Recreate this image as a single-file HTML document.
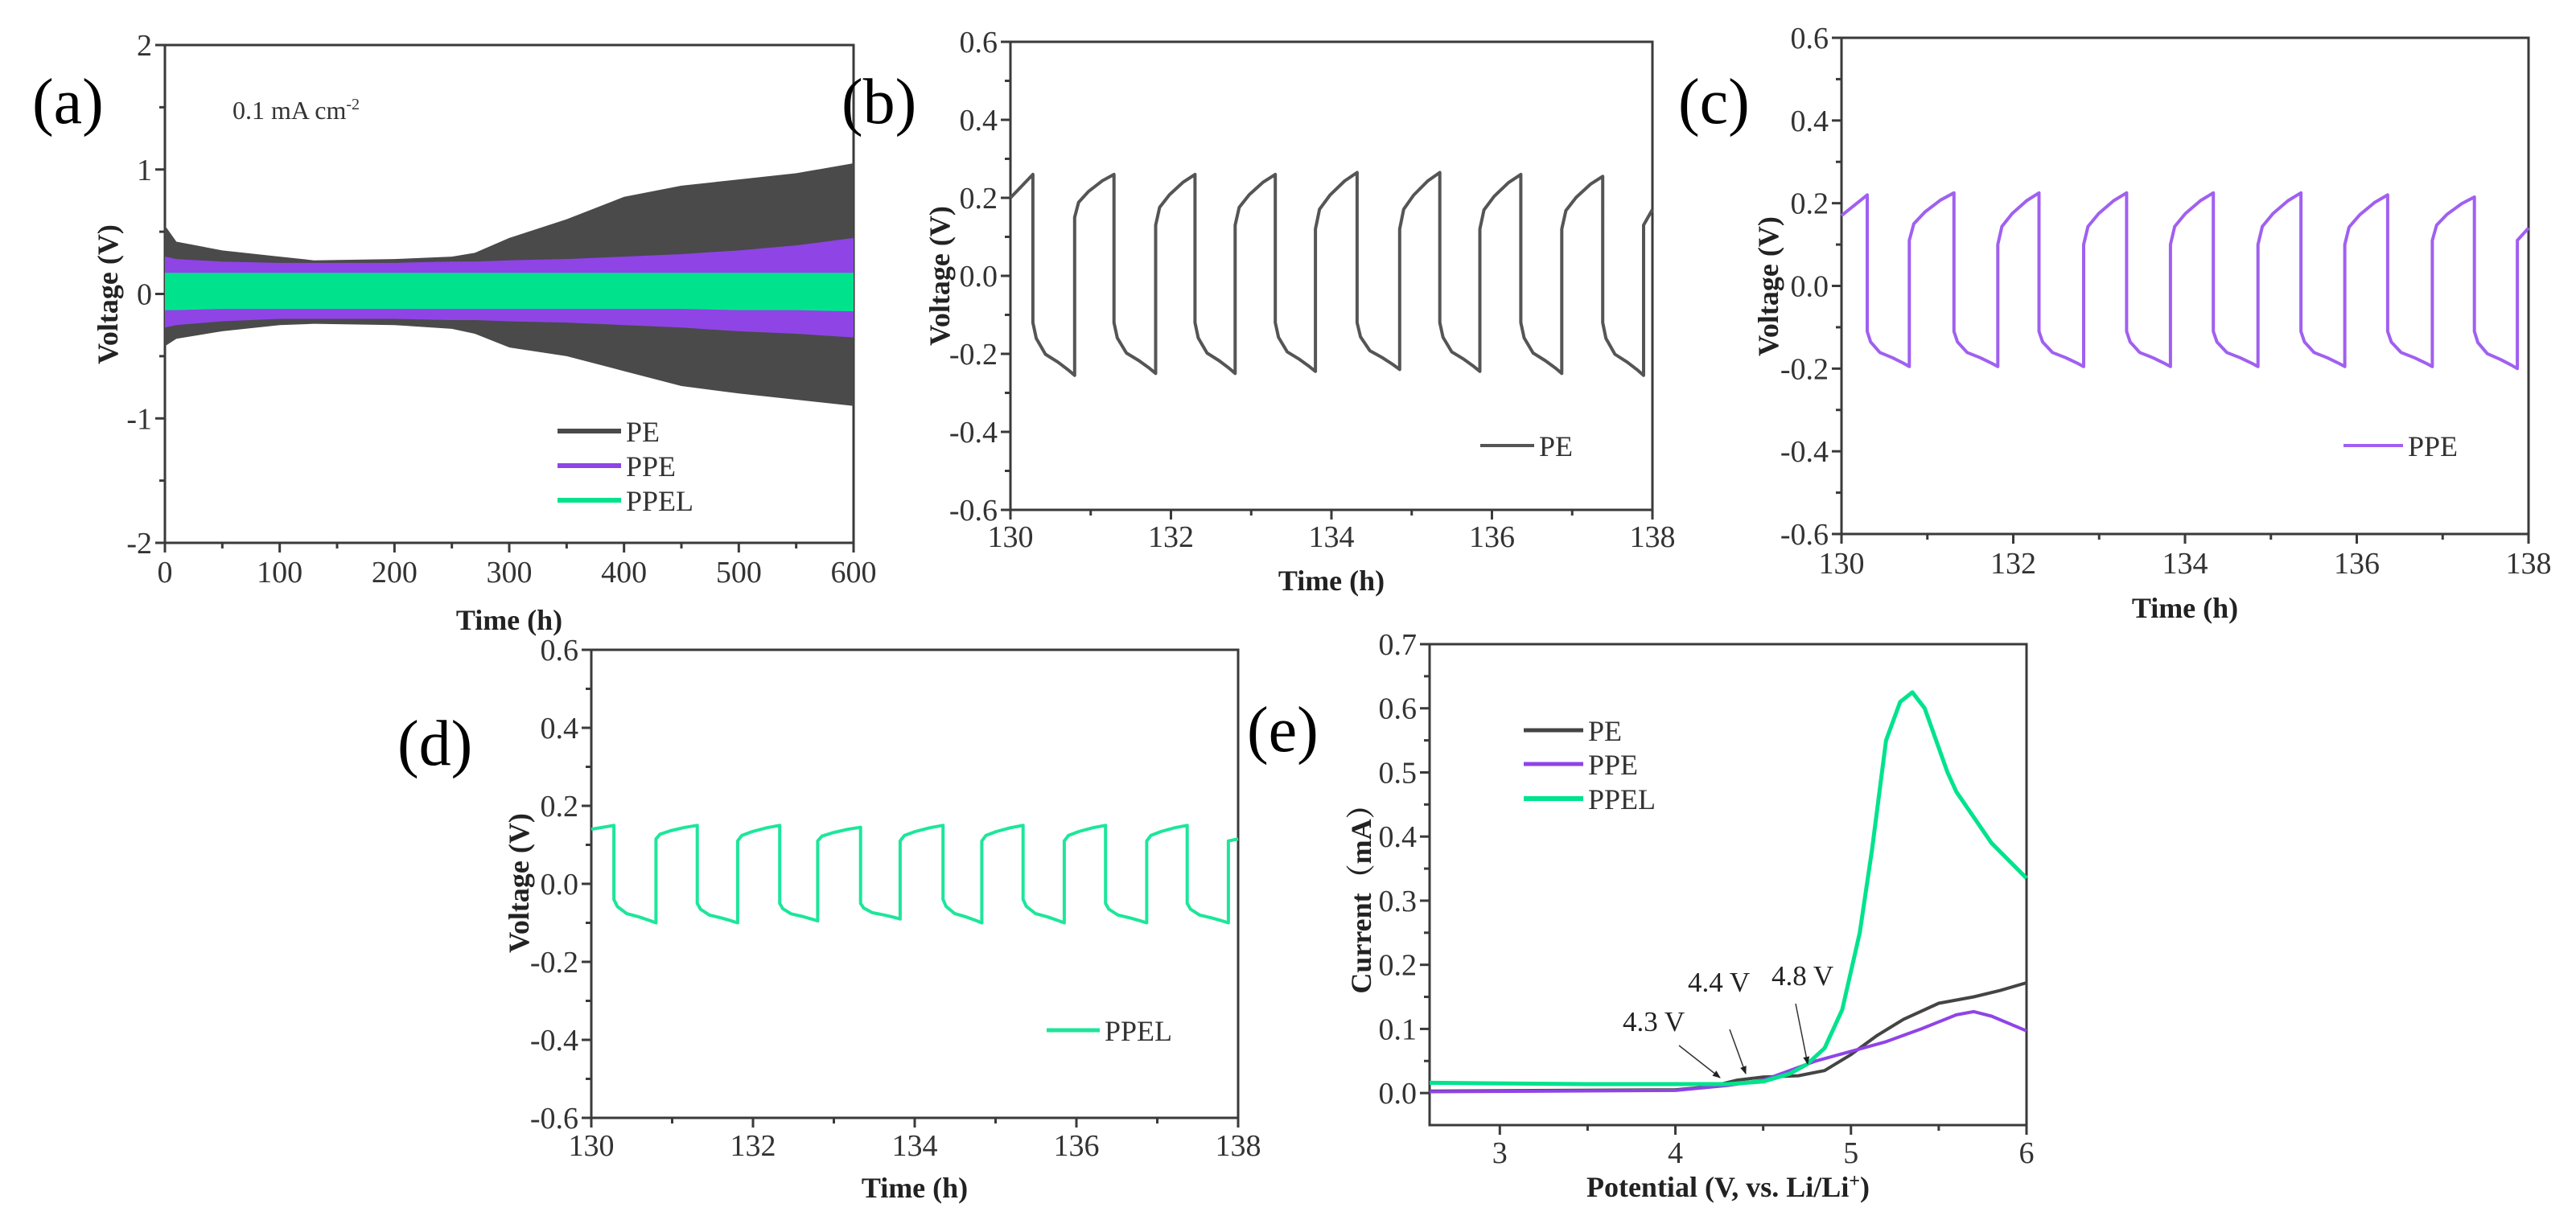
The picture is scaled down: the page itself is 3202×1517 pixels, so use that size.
<!DOCTYPE html>
<html><head><meta charset="utf-8">
<style>
html,body{margin:0;padding:0;background:#fff;}
svg{display:block;font-family:"Liberation Serif",serif;}
svg text{font-family:"Liberation Serif","Noto Serif CJK SC",serif;}
</style></head>
<body>
<svg id="fig" width="3202" height="1517" viewBox="0 0 3202 1517" xmlns="http://www.w3.org/2000/svg"></svg>
<script>
// ---------- Panel (a) data: envelope of cycling voltage (V) vs time (h)
const aTimes   = [0, 10, 50, 100, 130, 200, 250, 270, 300, 350, 400, 450, 500, 550, 600];
const peUpper  = [0.55, 0.42, 0.35, 0.30, 0.27, 0.28, 0.30, 0.33, 0.45, 0.60, 0.78, 0.87, 0.92, 0.97, 1.05];
const peLower  = [-0.42, -0.36, -0.30, -0.25, -0.24, -0.25, -0.28, -0.32, -0.43, -0.50, -0.62, -0.74, -0.80, -0.85, -0.90];
const ppeUpper = [0.30, 0.28, 0.26, 0.25, 0.25, 0.25, 0.26, 0.26, 0.27, 0.28, 0.30, 0.32, 0.35, 0.39, 0.45];
const ppeLower = [-0.27, -0.25, -0.22, -0.20, -0.20, -0.20, -0.21, -0.21, -0.22, -0.23, -0.25, -0.27, -0.30, -0.32, -0.35];
const pelUpper = [0.17, 0.17, 0.17, 0.17, 0.17, 0.17, 0.17, 0.17, 0.17, 0.17, 0.17, 0.17, 0.17, 0.17, 0.17];
const pelLower = [-0.13, -0.13, -0.12, -0.12, -0.12, -0.12, -0.12, -0.12, -0.12, -0.12, -0.12, -0.12, -0.13, -0.13, -0.14];
const aXTicks = [0, 100, 200, 300, 400, 500, 600];
const aYTicks = [-2, -1, 0, 1, 2];

// ---------- Panels (b),(c),(d): cycle switch times (h) and voltage levels (V)
const bDown = [130.28, 131.29, 132.30, 133.30, 134.32, 135.35, 136.36, 137.38];
const bUp   = [130.80, 131.81, 132.80, 133.80, 134.85, 135.85, 136.87, 137.89];
const bHi   = [0.26, 0.26, 0.26, 0.26, 0.265, 0.265, 0.26, 0.255];
const bLo   = [-0.255, -0.25, -0.25, -0.245, -0.24, -0.245, -0.25, -0.255];
const bAfterDrop = [-0.12, -0.12, -0.12, -0.12, -0.12, -0.12, -0.12, -0.12];
const bAfterRise = [0.15, 0.13, 0.13, 0.12, 0.12, 0.12, 0.12, 0.13];
const bStart = 0.20, bEnd = 0.17;

const cDown = [130.30, 131.31, 132.30, 133.32, 134.33, 135.35, 136.36, 137.37];
const cUp   = [130.79, 131.82, 132.82, 133.83, 134.85, 135.86, 136.88, 137.87];
const cHi   = [0.22, 0.225, 0.225, 0.225, 0.225, 0.225, 0.22, 0.215];
const cLo   = [-0.195, -0.195, -0.195, -0.195, -0.195, -0.195, -0.195, -0.20];
const cAfterDrop = [-0.11, -0.11, -0.11, -0.11, -0.11, -0.11, -0.11, -0.11];
const cAfterRise = [0.11, 0.10, 0.10, 0.10, 0.10, 0.10, 0.11, 0.11];
const cStart = 0.17, cEnd = 0.14;

const dDown = [130.28, 131.31, 132.33, 133.33, 134.35, 135.34, 136.36, 137.37];
const dUp   = [130.80, 131.81, 132.80, 133.82, 134.83, 135.85, 136.87, 137.88];
const dHi   = [0.15, 0.15, 0.15, 0.145, 0.15, 0.15, 0.15, 0.15];
const dLo   = [-0.10, -0.10, -0.095, -0.09, -0.10, -0.10, -0.10, -0.10];
const dAfterDrop = [-0.04, -0.05, -0.05, -0.05, -0.04, -0.04, -0.05, -0.05];
const dAfterRise = [0.115, 0.11, 0.11, 0.11, 0.11, 0.11, 0.11, 0.11];
const dStart = 0.14, dEnd = 0.115;

const tXTicks = [130, 132, 134, 136, 138];
const tYTicks = [-0.6, -0.4, -0.2, 0.0, 0.2, 0.4, 0.6];

// ---------- Panel (e): LSV current (mA) vs potential (V)
const ePE_x   = [2.6, 4.0, 4.2, 4.35, 4.5, 4.7, 4.85, 5.0, 5.15, 5.3, 5.5, 5.7, 5.85, 6.0];
const ePE_y   = [0.003, 0.005, 0.01, 0.02, 0.025, 0.027, 0.035, 0.06, 0.09, 0.115, 0.14, 0.15, 0.16, 0.172];
const ePPE_x  = [2.6, 4.0, 4.3, 4.5, 4.65, 4.8, 5.0, 5.2, 5.4, 5.6, 5.7, 5.8, 6.0];
const ePPE_y  = [0.002, 0.004, 0.012, 0.02, 0.035, 0.05, 0.065, 0.08, 0.10, 0.122, 0.127, 0.12, 0.097];
const ePPEL_x = [2.6, 3.5, 4.3, 4.5, 4.65, 4.75, 4.85, 4.95, 5.05, 5.12, 5.2, 5.28, 5.35, 5.42, 5.55, 5.6, 5.8, 6.0];
const ePPEL_y = [0.016, 0.014, 0.014, 0.018, 0.03, 0.045, 0.07, 0.13, 0.25, 0.38, 0.55, 0.61, 0.625, 0.60, 0.50, 0.47, 0.39, 0.335];
const eXTicks = [3, 4, 5, 6];
const eYTicks = [0.0, 0.1, 0.2, 0.3, 0.4, 0.5, 0.6, 0.7];

// ---------- drawing helpers
const NS = "http://www.w3.org/2000/svg";
const svg = document.getElementById('fig');
const FF = '"Liberation Serif", "Noto Serif CJK SC", serif';
function mk(tag, attrs, parent, text) {
  const e = document.createElementNS(NS, tag);
  for (const k in attrs) e.setAttribute(k, attrs[k]);
  if (tag === 'text') e.setAttribute('font-family', FF);
  if (text !== undefined) e.textContent = text;
  (parent || svg).appendChild(e);
  return e;
}
function makeAxes(c) {
  const g = mk('g', {});
  
  
  const sx = v => c.L + (v - c.xmin) / (c.xmax - c.xmin) * (c.R - c.L);
  const sy = v => c.B - (v - c.ymin) / (c.ymax - c.ymin) * (c.B - c.T);
  const frame = mk('rect', {x: c.L, y: c.T, width: c.R - c.L, height: c.B - c.T, fill: 'none', stroke: '#3a3a3a', 'stroke-width': 3}, g);
  
  
  for (let i = 0; i < c.xt.length; i++) {
    const v = c.xt[i], x = sx(v);
    mk('line', {x1: x, x2: x, y1: c.B, y2: c.B + 12, stroke: '#3a3a3a', 'stroke-width': 3}, g);
    const t = mk('text', {x: x, y: c.xly, 'text-anchor': 'middle', 'font-size': 38, fill: '#333'}, g, c.xfmt(v));
    
    
    if (i < c.xt.length - 1) {
      const xm = sx((v + c.xt[i + 1]) / 2);
      mk('line', {x1: xm, x2: xm, y1: c.B, y2: c.B + 7, stroke: '#3a3a3a', 'stroke-width': 3}, g);
    }
  }
  for (let i = 0; i < c.yt.length; i++) {
    const v = c.yt[i], y = sy(v);
    mk('line', {x1: c.L - 12, x2: c.L, y1: y, y2: y, stroke: '#3a3a3a', 'stroke-width': 3}, g);
    const t = mk('text', {x: c.L - 16, y: y + 13, 'text-anchor': 'end', 'font-size': 38, fill: '#333'}, g, c.yfmt(v));
    
    
    if (i < c.yt.length - 1) {
      const ym = sy((v + c.yt[i + 1]) / 2);
      mk('line', {x1: c.L - 7, x2: c.L, y1: ym, y2: ym, stroke: '#3a3a3a', 'stroke-width': 3}, g);
    }
  }
  const xt = mk('text', {x: (c.L + c.R) / 2, y: c.xty, 'text-anchor': 'middle', 'font-size': 36, 'font-weight': 'bold', fill: '#222'}, g);
  
  
  xt.innerHTML = c.xtitle;
  const yt = mk('text', {x: 0, y: 0, 'text-anchor': 'middle', 'font-size': 36, 'font-weight': 'bold', fill: '#222', transform: `translate(${c.ytx},${c.ytyc}) rotate(-90)`}, g);
  
  
  yt.innerHTML = c.ytitle;
  const pl = mk('text', {x: c.plx, y: c.ply, 'font-size': 80, fill: '#000'}, svg, c.plabel);
  
  
  return {sx, sy, g};
}
function legend(g, x1, x2, y, color, label, w) {
  const l = mk('line', {x1: x1, x2: x2, y1: y, y2: y, stroke: color, 'stroke-width': w}, g);
  
  
  const t = mk('text', {x: x2 + 6, y: y + 13, 'font-size': 36, fill: '#333'}, g, label);
  
  
}
const f1 = v => v.toFixed(1);
const f0 = v => String(v);

// ---------- Panel (a)
{
  const A = makeAxes({name: 'panel-a', L: 205, R: 1061, T: 56, B: 675, xmin: 0, xmax: 600, ymin: -2, ymax: 2,
    xt: aXTicks, yt: aYTicks, xfmt: f0, yfmt: f0, xly: 724, xty: 783, xtitle: 'Time (h)',
    ytx: 146, ytyc: 366, ytitle: 'Voltage (V)', plabel: '(a)', plx: 40, ply: 153});
  function band(up, lo, color, name) {
    let d = '';
    aTimes.forEach((t, i) => { d += (i ? 'L' : 'M') + A.sx(t) + ',' + A.sy(up[i]); });
    for (let i = aTimes.length - 1; i >= 0; i--) d += 'L' + A.sx(aTimes[i]) + ',' + A.sy(lo[i]);
    const p = mk('path', {d: d + 'Z', fill: color}, A.g);
    
    
  }
  band(peUpper, peLower, '#4a4a4a', 'pe-band');
  band(ppeUpper, ppeLower, '#8f44e6', 'ppe-band');
  band(pelUpper, pelLower, '#00e38c', 'ppel-band');
  const ann = mk('text', {x: 289, y: 148, 'font-size': 32, fill: '#333'}, A.g);
  
  
  ann.innerHTML = '0.1 mA cm<tspan dy="-12" font-size="20">-2</tspan>';
  legend(A.g, 693, 772, 536, '#4a4a4a', 'PE', 6);
  legend(A.g, 693, 772, 579, '#8f44e6', 'PPE', 6);
  legend(A.g, 693, 772, 622, '#00e38c', 'PPEL', 6);
}

// ---------- cycle panels
function cyclePanel(cfg, down, up, hi, lo, aD, aR, start, end, color, lname) {
  const P = makeAxes(cfg);
  const dropProf = [[0, 0], [0.08, 0.3], [0.3, 0.6], [0.6, 0.75], [0.85, 0.9], [1, 1]];
  const riseProf = [[0, 0], [0.1, 0.35], [0.35, 0.6], [0.7, 0.85], [1, 1]];
  const pts = [[130, start], [down[0], hi[0]]];
  for (let k = 0; k < down.length; k++) {
    const t0 = down[k], t1 = up[k];
    dropProf.forEach(([f, s]) => pts.push([t0 + f * (t1 - t0), aD[k] + s * (lo[k] - aD[k])]));
    if (k + 1 < down.length) {
      const t2 = down[k + 1];
      riseProf.forEach(([f, s]) => pts.push([t1 + f * (t2 - t1), aR[k] + s * (hi[k + 1] - aR[k])]));
    } else {
      pts.push([t1, aR[k]]);
      pts.push([138, end]);
    }
  }
  const d = pts.map((p, i) => (i ? 'L' : 'M') + P.sx(p[0]).toFixed(1) + ',' + P.sy(p[1]).toFixed(1)).join('');
  const path = mk('path', {d: d, fill: 'none', stroke: color, 'stroke-width': 4, 'stroke-linejoin': 'round'}, P.g);
  
  
  return P;
}
{
  const B = cyclePanel({name: 'panel-b', L: 1256, R: 2054, T: 52, B: 634, xmin: 130, xmax: 138, ymin: -0.6, ymax: 0.6,
    xt: tXTicks, yt: tYTicks, xfmt: f0, yfmt: f1, xly: 680, xty: 734, xtitle: 'Time (h)',
    ytx: 1180, ytyc: 343, ytitle: 'Voltage (V)', plabel: '(b)', plx: 1046, ply: 153},
    bDown, bUp, bHi, bLo, bAfterDrop, bAfterRise, bStart, bEnd, '#555555', 'pe');
  legend(B.g, 1840, 1907, 554, '#555555', 'PE', 4);
}
{
  const C = cyclePanel({name: 'panel-c', L: 2289, R: 3143, T: 47, B: 664, xmin: 130, xmax: 138, ymin: -0.6, ymax: 0.6,
    xt: tXTicks, yt: tYTicks, xfmt: f0, yfmt: f1, xly: 713, xty: 768, xtitle: 'Time (h)',
    ytx: 2210, ytyc: 356, ytitle: 'Voltage (V)', plabel: '(c)', plx: 2086, ply: 153},
    cDown, cUp, cHi, cLo, cAfterDrop, cAfterRise, cStart, cEnd, '#a060f0', 'ppe');
  legend(C.g, 2913, 2987, 554, '#a060f0', 'PPE', 4);
}
{
  const D = cyclePanel({name: 'panel-d', L: 735, R: 1539, T: 808, B: 1390, xmin: 130, xmax: 138, ymin: -0.6, ymax: 0.6,
    xt: tXTicks, yt: tYTicks, xfmt: f0, yfmt: f1, xly: 1437, xty: 1489, xtitle: 'Time (h)',
    ytx: 657, ytyc: 1098, ytitle: 'Voltage (V)', plabel: '(d)', plx: 494, ply: 951},
    dDown, dUp, dHi, dLo, dAfterDrop, dAfterRise, dStart, dEnd, '#1de69a', 'ppel');
  legend(D.g, 1301, 1367, 1281, '#1de69a', 'PPEL', 5);
}

// ---------- Panel (e)
{
  const E = makeAxes({name: 'panel-e', L: 1777, R: 2519, T: 801, B: 1399, xmin: 2.6, xmax: 6, ymin: -0.05, ymax: 0.7,
    xt: eXTicks, yt: eYTicks, xfmt: f0, yfmt: f1, xly: 1446, xty: 1488, xtitle: 'Potential (V, vs. Li/Li<tspan dy="-12" font-size="24">+</tspan><tspan dy="12">)</tspan>',
    ytx: 1704, ytyc: 1109, ytitle: 'Current（mA）', plabel: '(e)', plx: 1550, ply: 934});
  function line(xs, ys, color, name, w) {
    const d = xs.map((x, i) => (i ? 'L' : 'M') + E.sx(x).toFixed(1) + ',' + E.sy(ys[i]).toFixed(1)).join('');
    const p = mk('path', {d: d, fill: 'none', stroke: color, 'stroke-width': w, 'stroke-linejoin': 'round'}, E.g);
    
    
  }
  line(ePE_x, ePE_y, '#444444', 'pe-lsv-line', 4);
  line(ePPE_x, ePPE_y, '#8f44e6', 'ppe-lsv-line', 4);
  line(ePPEL_x, ePPEL_y, '#00e38c', 'ppel-lsv-line', 5);
  legend(E.g, 1894, 1968, 908, '#444444', 'PE', 5);
  legend(E.g, 1894, 1968, 950, '#8f44e6', 'PPE', 5);
  legend(E.g, 1894, 1968, 993, '#00e38c', 'PPEL', 6);
  const defs = mk('defs', {});
  const m = mk('marker', {id: 'ah', markerWidth: 10, markerHeight: 10, refX: 9, refY: 5, orient: 'auto', markerUnits: 'userSpaceOnUse'}, defs);
  mk('path', {d: 'M0,1 L10,5 L0,9 Z', fill: '#222'}, m);
  const arrows = [[2087, 1300, 2138, 1340, '4.3 V', 2017, 1282], [2150, 1280, 2170, 1335, '4.4 V', 2098, 1233], [2232, 1248, 2247, 1323, '4.8 V', 2202, 1225]];
  arrows.forEach(a => {
    const l = mk('line', {x1: a[0], y1: a[1], x2: a[2], y2: a[3], stroke: '#333', 'stroke-width': 1.5, 'marker-end': 'url(#ah)'}, E.g);
    
    
    const t = mk('text', {x: a[5], y: a[6], 'font-size': 35, fill: '#222'}, E.g, a[4]);
    
    
  });
}
</script>
</body></html>
